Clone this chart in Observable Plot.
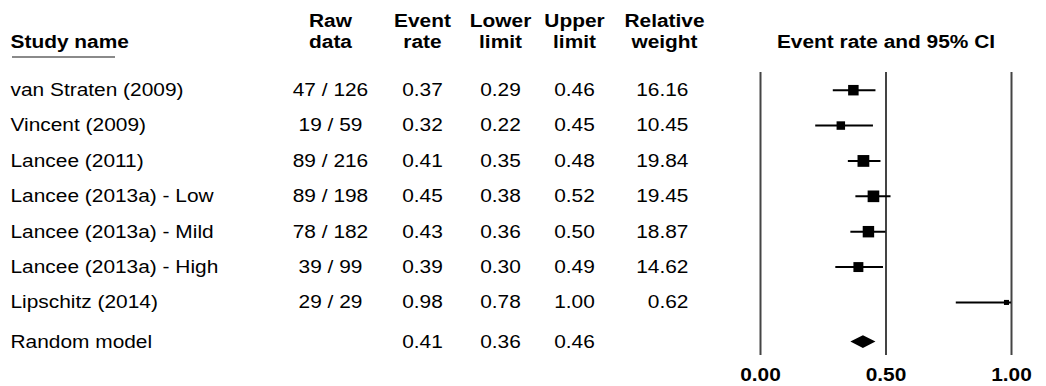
<!DOCTYPE html>
<html>
<head>
<meta charset="utf-8">
<script src="https://cdn.jsdelivr.net/npm/d3@7"></script>
<script src="https://cdn.jsdelivr.net/npm/@observablehq/plot@0.6"></script>
<style>
  html, body { margin: 0; padding: 0; background: #fff; }
  #chart svg [aria-label^="x-axis"] text { font-weight: bold; }
</style>
</head>
<body>
<div id="chart"></div>
<script>
// Proportion meta-analysis: per-study event rates with 95% CIs
const studies = [
  "van Straten (2009)",
  "Vincent (2009)",
  "Lancee (2011)",
  "Lancee (2013a) - Low",
  "Lancee (2013a) - Mild",
  "Lancee (2013a) - High",
  "Lipschitz (2014)"
];
const events  = [47, 19, 89, 89, 78, 39, 29];
const totals  = [126, 59, 216, 198, 182, 99, 29];
const rates   = [0.37, 0.32, 0.41, 0.45, 0.43, 0.39, 0.98];
const lowers  = [0.29, 0.22, 0.35, 0.38, 0.36, 0.30, 0.78];
const uppers  = [0.46, 0.45, 0.48, 0.52, 0.50, 0.49, 1.00];
const weights = [16.16, 10.45, 19.84, 19.45, 18.87, 14.62, 0.62];

// Pooled estimate (random-effects model)
const summaryLabel = "Random model";
const summaryRate  = 0.41;
const summaryLower = 0.36;
const summaryUpper = 0.46;

const xTicks = [0, 0.5, 1];
const headers = {
  name: "Study name",
  raw: "Raw\ndata",
  rate: "Event\nrate",
  lower: "Lower\nlimit",
  upper: "Upper\nlimit",
  weight: "Relative\nweight",
  plot: "Event rate and 95% CI"
};

// ---- layout (pixels) ----
const W = 1046, H = 386;
const plotLeft = 760, plotRight = 1011;
const frameTop = 72, frameBottom = 355;
const headerBaseline = 47;
const col = { name: 10, raw: 330, rate: 422, lower: 500, upper: 574, weight: 688, weightHead: 664 };
const summaryGap = 0.12;      // extra spacing before the pooled row, in rows
const diamondHalf = 0.18;     // half height of the summary diamond, in rows
const stretch = 1.13;         // horizontal stretch of the typeface
const fontFamily = "'Liberation Sans', Arial, Helvetica, sans-serif";
const fontSize = 18.5;

const fmt2 = d3.format(".2f");
const rows = studies.map((name, i) => ({
  i, name,
  raw: `${events[i]} / ${totals[i]}`,
  rate: rates[i], lower: lowers[i], upper: uppers[i], weight: weights[i]
}));
const sy = studies.length + summaryGap;
const summary = [{ y: sy, label: summaryLabel, rate: summaryRate, lower: summaryLower, upper: summaryUpper }];
const diamond = [
  { y: sy - diamondHalf, x1: summaryRate, x2: summaryRate },
  { y: sy, x1: summaryLower, x2: summaryUpper },
  { y: sy + diamondHalf, x1: summaryRate, x2: summaryRate }
];

const headText = (text, dx, textAnchor) =>
  Plot.text([text], {
    text: d => d, frameAnchor: "top-left", dx, dy: headerBaseline - frameTop,
    lineAnchor: "bottom", lineHeight: 1.135, textAnchor, fontWeight: "bold"
  });
const cell = (data, field, dx, textAnchor, y = "i") =>
  Plot.text(data, { y, text: field, frameAnchor: "left", dx, textAnchor });

const chart = Plot.plot({
  width: W, height: H,
  marginTop: frameTop, marginBottom: H - frameBottom, marginLeft: 0, marginRight: 0,
  style: { fontFamily, fontSize: fontSize + "px", color: "#000", background: "#fff", overflow: "visible" },
  x: { domain: [0, 1], range: [plotLeft, plotRight], ticks: xTicks, tickFormat: fmt2,
       tickSize: 0, tickPadding: 12, label: null },
  y: { domain: [-0.5, studies.length + 0.5], reverse: true, axis: null },
  r: { type: "linear", domain: d3.extent(weights), range: [2.85, 6.65] },
  marks: [
    // header row
    headText(headers.name, col.name, "start"),
    headText(headers.raw, col.raw, "middle"),
    headText(headers.rate, col.rate, "middle"),
    headText(headers.lower, col.lower, "middle"),
    headText(headers.upper, col.upper, "middle"),
    headText(headers.weight, col.weightHead, "middle"),
    Plot.text([headers.plot], { x: 0.5, text: d => d, frameAnchor: "top",
      dy: headerBaseline - frameTop, lineAnchor: "bottom", fontWeight: "bold" }),

    // table columns
    cell(rows, "name", col.name, "start"),
    cell(rows, "raw", col.raw, "middle"),
    cell(rows, d => fmt2(d.rate), col.rate, "middle"),
    cell(rows, d => fmt2(d.lower), col.lower, "middle"),
    cell(rows, d => fmt2(d.upper), col.upper, "middle"),
    cell(rows, d => fmt2(d.weight), col.weight, "end"),
    cell(summary, "label", col.name, "start", "y"),
    cell(summary, d => fmt2(d.rate), col.rate, "middle", "y"),
    cell(summary, d => fmt2(d.lower), col.lower, "middle", "y"),
    cell(summary, d => fmt2(d.upper), col.upper, "middle", "y"),

    // forest plot
    Plot.ruleX(xTicks, { x: d => d, stroke: "#444", strokeWidth: 2 }),
    Plot.ruleY(rows, { y: "i", x1: "lower", x2: "upper", stroke: "#000", strokeWidth: 2 }),
    Plot.dot(rows, { x: "rate", y: "i", r: "weight", symbol: "square", fill: "#000", stroke: "none" }),
    Plot.areaX(diamond, { y: "y", x1: "x1", x2: "x2", fill: "#000", curve: "linear" })
  ]
});

document.getElementById("chart").appendChild(chart);

// widen the typeface horizontally around each label's anchor
chart.querySelectorAll("text").forEach(t => {
  const tr = t.getAttribute("transform") || "";
  t.setAttribute("transform", `${tr} scale(${stretch},1)`);
});

// grey rule under the first column heading
d3.select(chart).append("line")
  .attr("x1", 12).attr("x2", 115)
  .attr("y1", 57).attr("y2", 57)
  .attr("stroke", "#8a8a8a").attr("stroke-width", 2);
</script>
</body>
</html>
